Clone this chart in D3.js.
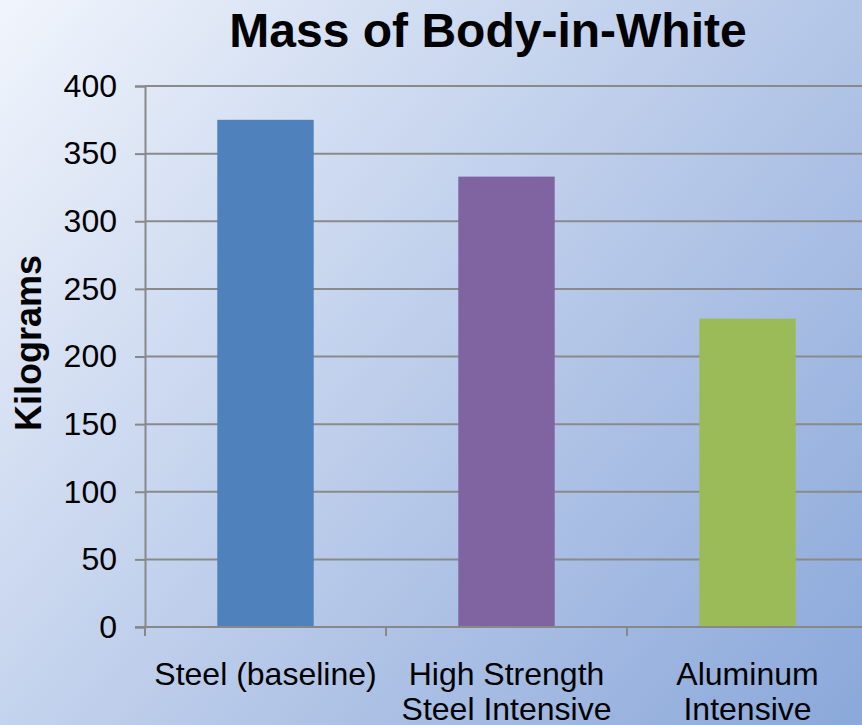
<!DOCTYPE html>
<html>
<head>
<meta charset="utf-8">
<script src="https://cdn.jsdelivr.net/npm/d3@7"></script>
<style>
  html, body { margin: 0; padding: 0; }
  svg { display: block; font-family: "Liberation Sans", Arial, sans-serif; }
</style>
</head>
<body>
<svg id="chart" width="862" height="725"></svg>
<script>
// Body-in-white mass by construction type
const categories = [["Steel (baseline)"], ["High Strength", "Steel Intensive"], ["Aluminum", "Intensive"]];
const massKg = [375, 333, 228];
const barColors = ["#4f81bd", "#8064a2", "#9bbb59"];
const yTicks = [0, 50, 100, 150, 200, 250, 300, 350, 400];

const width = 862, height = 725;
const svg = d3.select("#chart");

// diagonal background wash
const defs = svg.append("defs");
const grad = defs.append("linearGradient")
  .attr("id", "bg")
  .attr("gradientUnits", "userSpaceOnUse")
  .attr("x1", 0).attr("y1", 0).attr("x2", width).attr("y2", height);
grad.append("stop").attr("offset", 0).attr("stop-color", "#f1f5fc");
grad.append("stop").attr("offset", 0.3).attr("stop-color", "#d0dcf1");
grad.append("stop").attr("offset", 0.65).attr("stop-color", "#adc1e5");
grad.append("stop").attr("offset", 1).attr("stop-color", "#8aa8da");
svg.append("rect").attr("width", width).attr("height", height).attr("fill", "url(#bg)");

const plot = { left: 145, top: 86, bottom: 627, right: 868 };

const x = d3.scaleBand()
  .domain(d3.range(categories.length))
  .range([plot.left, plot.right])
  .paddingInner(0.6)
  .paddingOuter(0.3);

const y = d3.scaleLinear().domain([0, 400]).range([plot.bottom, plot.top]);

// horizontal gridlines
svg.append("g").selectAll("line")
  .data(yTicks.filter(d => d > 0))
  .join("line")
  .attr("x1", plot.left).attr("x2", width)
  .attr("y1", d => y(d)).attr("y2", d => y(d))
  .attr("stroke", "#8a8a8a").attr("stroke-width", 2);

// bars
svg.append("g").selectAll("rect")
  .data(massKg)
  .join("rect")
  .attr("x", (d, i) => x(i))
  .attr("width", x.bandwidth())
  .attr("y", d => y(d))
  .attr("height", d => y(0) - y(d))
  .attr("fill", (d, i) => barColors[i]);

// y axis
const yAxis = svg.append("g")
  .attr("transform", `translate(${plot.left},0)`)
  .call(d3.axisLeft(y).tickValues(yTicks).tickSize(10).tickPadding(18));
yAxis.select(".domain").attr("stroke", "#888").attr("stroke-width", 2);
yAxis.selectAll(".tick line").attr("stroke", "#888").attr("stroke-width", 2);
yAxis.selectAll(".tick text")
  .attr("font-size", 32).attr("fill", "#000")
  .attr("font-family", "Liberation Sans, Arial, sans-serif");

// x axis baseline with ticks at band boundaries
const xAxisG = svg.append("g");
xAxisG.append("line")
  .attr("x1", plot.left - 10).attr("x2", width)
  .attr("y1", plot.bottom).attr("y2", plot.bottom)
  .attr("stroke", "#888").attr("stroke-width", 2);
const step = x.step();
xAxisG.selectAll("line.tk")
  .data(d3.range(categories.length))
  .join("line")
  .attr("class", "tk")
  .attr("x1", i => plot.left + i * step).attr("x2", i => plot.left + i * step)
  .attr("y1", plot.bottom).attr("y2", plot.bottom + 9)
  .attr("stroke", "#888").attr("stroke-width", 2);

// category labels
const labels = svg.append("g").selectAll("text")
  .data(categories)
  .join("text")
  .attr("x", (d, i) => x(i) + x.bandwidth() / 2)
  .attr("y", 685)
  .attr("text-anchor", "middle")
  .attr("font-size", 32)
  .attr("fill", "#000");
labels.selectAll("tspan")
  .data(d => d)
  .join("tspan")
  .attr("x", function () { return d3.select(this.parentNode).attr("x"); })
  .attr("dy", (d, j) => j === 0 ? 0 : 35)
  .text(d => d);

// title
svg.append("text")
  .attr("x", 488).attr("y", 47)
  .attr("text-anchor", "middle")
  .attr("font-size", 48).attr("font-weight", "bold")
  .text("Mass of Body-in-White");

// y axis title
svg.append("text")
  .attr("transform", "translate(41,343) rotate(-90)")
  .attr("text-anchor", "middle")
  .attr("font-size", 36).attr("font-weight", "bold")
  .text("Kilograms");
</script>
</body>
</html>
